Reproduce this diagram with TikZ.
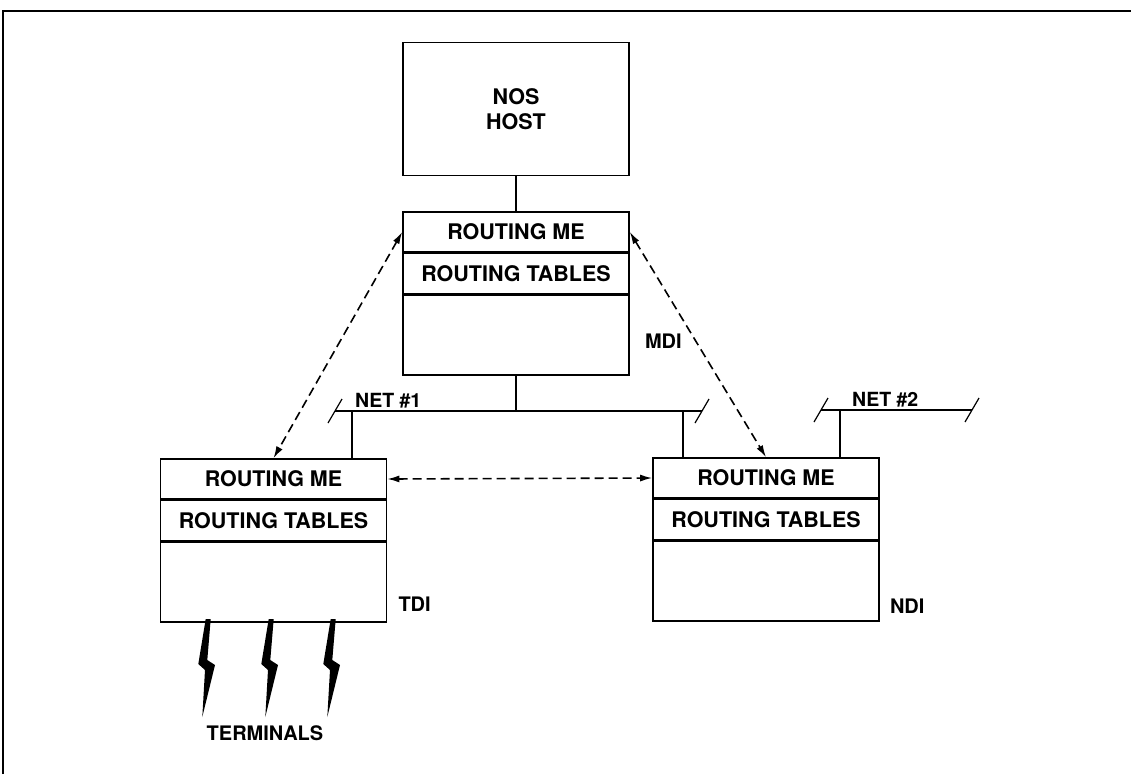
\documentclass[tikz,border=0pt]{standalone}
\usepackage{fontspec}
\setmainfont{TeX Gyre Heros}
\usetikzlibrary{arrows.meta, positioning}

\begin{document}
\begin{tikzpicture}[
    x=1pt, y=-1pt,
    font=\bfseries\fontsize{21.5}{25}\selectfont,
    unitbox/.style={draw, line width=1.6pt, minimum width=226pt, inner sep=0pt},
    rowbox/.style={unitbox, minimum height=40pt},
    bodybox/.style={unitbox, minimum height=80pt},
    hostbox/.style={unitbox, minimum height=133pt, align=center},
    lan/.style={line width=1.6pt},
    tap/.style={line width=1.2pt},
    peer/.style={{Latex[length=12pt,width=7pt]}-{Latex[length=12pt,width=7pt]},
                 dash pattern=on 9pt off 5pt, line width=1.6pt},
    tag/.style={font=\bfseries\fontsize{20}{23}\selectfont, inner sep=0pt},
    nettag/.style={font=\bfseries\fontsize{19.5}{22}\selectfont, inner sep=0pt},
]
\useasboundingbox (0,0) rectangle (1131,774);

% --- frame ---
\draw[line width=1.8pt] (3,774) -- (3,11) -- (1131,11);

% --- host ---
\node[hostbox] (host) at (516,109) {NOS\\HOST};

% --- MDI ---
\node[rowbox] (mdi1) at (516,232) {ROUTING ME};
\node[rowbox, below=0pt of mdi1] (mdi2) {ROUTING TABLES};
\node[bodybox, below=0pt of mdi2] (mdi3) {};
\node[tag, right=15pt of mdi3.east, yshift=-6pt] (mdilbl) {MDI};

% --- TDI ---
\node[rowbox] (tdi1) at (273.5,479) {ROUTING ME};
\node[rowbox, below=0pt of tdi1] (tdi2) {ROUTING TABLES};
\node[bodybox, below=0pt of tdi2] (tdi3) {};
\node[tag, right=11pt of tdi3.east, yshift=-22pt] (tdilbl) {TDI};

% --- NDI ---
\node[rowbox] (ndi1) at (766,478) {ROUTING ME};
\node[rowbox, below=0pt of ndi1] (ndi2) {ROUTING TABLES};
\node[bodybox, below=0pt of ndi2] (ndi3) {};
\node[tag, right=10pt of ndi3.east, yshift=-25pt] (ndilbl) {NDI};

% --- networks ---
\coordinate (net1w) at (335,411);
\coordinate (net1e) at (702,411);
\coordinate (net2w) at (821,410);
\coordinate (net2e) at (972,410);
\draw[lan] (net1w) -- (net1e);
\draw[lan] (net2w) -- (net2e);
\foreach \n in {net1w,net1e,net2w,net2e}
    \draw[tap] (\n) ++(-7,12) -- ++(14,-24);
\node[nettag, above right=3pt and 20pt of net1w] (net1lbl) {NET \#1};
\node[nettag, above right=3pt and 31pt of net2w] (net2lbl) {NET \#2};

% --- taps ---
\draw[tap] (host.south) -- (mdi1.north);
\draw[tap] (mdi3.south) -- (mdi3.south |- net1w);
\coordinate (tapT) at (352,411);
\coordinate (tapN) at (683,411);
\coordinate (tapX) at (840,410);
\draw[tap] (tapT) -- (tapT |- tdi1.north);
\draw[tap] (tapN) -- (tapN |- ndi1.north);
\draw[tap] (tapX) -- (tapX |- ndi1.north);

% --- peer links ---
\draw[peer] (mdi1.west) -- (tdi1.north);
\draw[peer] (mdi1.east) -- (ndi1.north);
\draw[peer] (tdi1.east) -- (ndi1.west);

% --- terminals ---
\foreach \bx in {208,271,333}
    \fill (\bx-2.3,619) -- (\bx+2.7,619) -- (\bx-0.7,660) -- (\bx+7,665)
          -- (\bx-5.7,717) -- (\bx-3,670) -- (\bx-9.7,664) -- cycle;
\node[font=\bfseries\fontsize{20}{24}\selectfont] (term) at (265,733) {TERMINALS};

\end{tikzpicture}
\end{document}
